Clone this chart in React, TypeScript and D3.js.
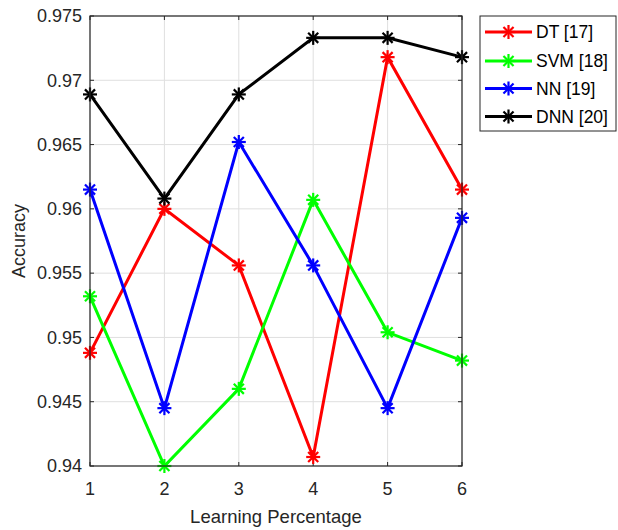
import React from "react";
import * as d3 from "d3";

const xValues = [1, 2, 3, 4, 5, 6];
const yTicks = [0.94, 0.945, 0.95, 0.955, 0.96, 0.965, 0.97, 0.975];
const yTickLabels = ["0.94", "0.945", "0.95", "0.955", "0.96", "0.965", "0.97", "0.975"];
const seriesNames = ["DT [17]", "SVM [18]", "NN [19]", "DNN [20]"];
const seriesColors = ["#ff0000", "#00ff00", "#0000ff", "#000000"];
const dtValues = [0.9488, 0.96, 0.9556, 0.9407, 0.9718, 0.9615];
const svmValues = [0.9532, 0.94, 0.946, 0.9607, 0.9504, 0.9482];
const nnValues = [0.9615, 0.9445, 0.9652, 0.9556, 0.9445, 0.9593];
const dnnValues = [0.9689, 0.9608, 0.9689, 0.9733, 0.9733, 0.9718];
const allSeries = [dtValues, svmValues, nnValues, dnnValues];

const W = 618;
const H = 530;
const left = 90, right = 462, top = 16, bottom = 466;
const FONT = "'Liberation Sans', Arial, Helvetica, sans-serif";

function Asterisk({ x, y, color, r = 7 }: { x: number; y: number; color: string; r?: number }) {
  const d = r * 0.72;
  return (
    <g stroke={color} strokeWidth={2.2} strokeLinecap="butt">
      <line x1={x - r} y1={y} x2={x + r} y2={y} />
      <line x1={x} y1={y - r} x2={x} y2={y + r} />
      <line x1={x - d} y1={y - d} x2={x + d} y2={y + d} />
      <line x1={x - d} y1={y + d} x2={x + d} y2={y - d} />
    </g>
  );
}

export default function App() {
  const xScale = d3.scaleLinear().domain([1, 6]).range([left, right]);
  const yScale = d3.scaleLinear().domain([0.94, 0.975]).range([bottom, top]);
  const line = d3
    .line<number>()
    .x((_, i) => xScale(xValues[i]))
    .y((v) => yScale(v));
  const axisColor = "#262626";
  const tickLen = 4;

  const legX = 480, legY = 16, legW = 136, legH = 115;
  const legRows = [32, 61, 88.5, 116.5];

  return (
    <svg width={W} height={H} style={{ position: "absolute", left: 0, top: 0 }}>
      <rect x={0} y={0} width={W} height={H} fill="#ffffff" />
      {/* grid */}
      {xValues.map((v) => (
        <line key={"gx" + v} x1={xScale(v)} x2={xScale(v)} y1={top} y2={bottom} stroke="#dfdfdf" strokeWidth={1} />
      ))}
      {yTicks.map((v) => (
        <line key={"gy" + v} x1={left} x2={right} y1={yScale(v)} y2={yScale(v)} stroke="#dfdfdf" strokeWidth={1} />
      ))}
      {/* ticks */}
      {xValues.map((v) => (
        <g key={"tx" + v} stroke={axisColor} strokeWidth={1}>
          <line x1={xScale(v)} x2={xScale(v)} y1={bottom} y2={bottom - tickLen} />
          <line x1={xScale(v)} x2={xScale(v)} y1={top} y2={top + tickLen} />
        </g>
      ))}
      {yTicks.map((v) => (
        <g key={"ty" + v} stroke={axisColor} strokeWidth={1}>
          <line x1={left} x2={left + tickLen} y1={yScale(v)} y2={yScale(v)} />
          <line x1={right} x2={right - tickLen} y1={yScale(v)} y2={yScale(v)} />
        </g>
      ))}
      {/* series */}
      {allSeries.map((s, si) => (
        <g key={"s" + si}>
          <path d={line(s) || ""} fill="none" stroke={seriesColors[si]} strokeWidth={3} strokeLinejoin="miter" />
          {s.map((v, i) => (
            <Asterisk key={i} x={xScale(xValues[i])} y={yScale(v)} color={seriesColors[si]} />
          ))}
        </g>
      ))}
      {/* box */}
      <rect x={left} y={top} width={right - left} height={bottom - top} fill="none" stroke={axisColor} strokeWidth={1.2} />
      {/* tick labels */}
      {yTicks.map((v, i) => (
        <text key={"yl" + v} x={left - 8} y={yScale(v)} dy="0.35em" textAnchor="end" fontFamily={FONT} fontSize={18} fill={axisColor}>
          {yTickLabels[i]}
        </text>
      ))}
      {xValues.map((v) => (
        <text key={"xl" + v} x={xScale(v)} y={495} textAnchor="middle" fontFamily={FONT} fontSize={18} fill={axisColor}>
          {v}
        </text>
      ))}
      <text x={(left + right) / 2} y={523} textAnchor="middle" fontFamily={FONT} fontSize={18.5} fill={axisColor}>
        Learning Percentage
      </text>
      <text transform={`translate(25, ${(top + bottom) / 2}) rotate(-90)`} textAnchor="middle" fontFamily={FONT} fontSize={18} fill={axisColor}>
        Accuracy
      </text>
      {/* legend */}
      <rect x={legX} y={legY} width={legW} height={legH} fill="#ffffff" stroke={axisColor} strokeWidth={1} />
      {seriesNames.map((n, i) => (
        <g key={"lg" + i}>
          <line x1={485} x2={532} y1={legRows[i]} y2={legRows[i]} stroke={seriesColors[i]} strokeWidth={3} />
          <Asterisk x={508.5} y={legRows[i]} color={seriesColors[i]} />
          <text x={536} y={legRows[i]} dy="0.35em" fontFamily={FONT} fontSize={17.5} fill="#000000">
            {n}
          </text>
        </g>
      ))}
    </svg>
  );
}
